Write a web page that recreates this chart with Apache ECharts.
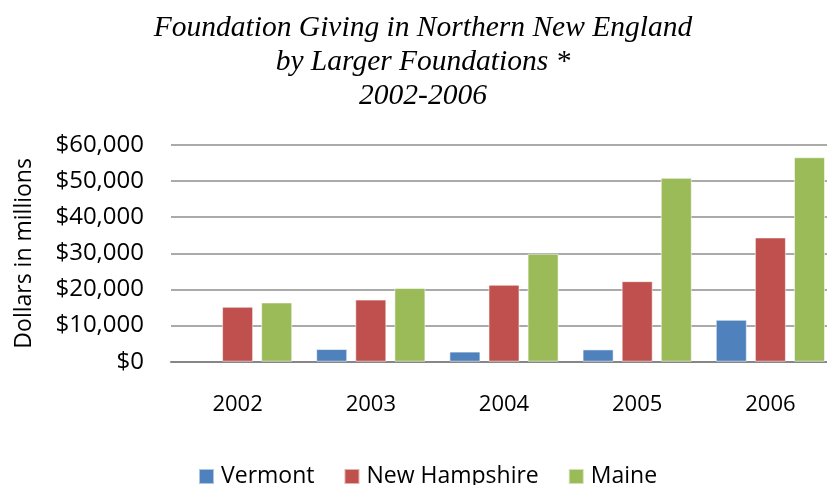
<!DOCTYPE html>
<html>
<head>
<meta charset="utf-8">
<script src="https://cdn.jsdelivr.net/npm/echarts@6/dist/echarts.min.js"></script>
<style>
    html, body {margin: 0; padding: 0; background: #fff;}
    #chart {width: 827px; height: 485px;}
</style>
</head>
<body>
<div id="chart"></div>
<script>
// values
var years = ['2002', '2003', '2004', '2005', '2006']
var vermont = [null, 3500, 2800, 3400, 11600]
var newHampshire = [15200, 17200, 21300, 22300, 34400]
var maine = [16400, 20400, 29900, 50900, 56600]
var yTicks = [0, 10000, 20000, 30000, 40000, 50000, 60000]

var sansFont = 'Open Sans'
var myChart = echarts.init(document.getElementById('chart'))

function barSeries(name, data, color) {
    return {
        name: name,
        type: 'bar',
        data: data,
        barGap: '26%',
        barCategoryGap: '18%',
        itemStyle: {
            color: color,
            borderColor: 'rgba(255,255,255,0.55)',
            borderWidth: 1
        }
    }
}

var option = {
    animation: false,
    backgroundColor: '#fff',
    title: {
        text: 'Foundation Giving in Northern New England\nby Larger Foundations *\n2002-2006',
        left: 418,
        top: 6,
        textAlign: 'center',
        textStyle: {
            fontFamily: 'Liberation Serif',
            fontStyle: 'italic',
            fontWeight: 'normal',
            fontSize: 29.5,
            lineHeight: 34,
            color: '#000'
        }
    },
    legend: {
        data: ['Vermont', 'New Hampshire', 'Maine'],
        left: 193,
        top: 460,
        icon: 'rect',
        itemWidth: 15,
        itemHeight: 15,
        itemGap: 29,
        textStyle: {
            fontFamily: sansFont,
            fontSize: 23,
            color: '#000',
            padding: [0, 0, 0, 2]
        }
    },
    grid: {
        left: 171,
        top: 145,
        width: 666,
        bottom: 123.3,
        containLabel: false,
        outerBoundsMode: 'none'
    },
    xAxis: {
        type: 'category',
        data: years,
        axisTick: {show: false},
        axisLine: {lineStyle: {color: '#868686', width: 2}},
        axisLabel: {
            fontFamily: sansFont,
            fontSize: 22,
            color: '#000',
            margin: 32
        }
    },
    yAxis: {
        type: 'value',
        min: yTicks[0],
        max: yTicks[yTicks.length - 1],
        interval: yTicks[1] - yTicks[0],
        name: 'Dollars in millions',
        nameLocation: 'middle',
        nameGap: 135,
        nameTextStyle: {
            fontFamily: sansFont,
            fontSize: 23,
            color: '#000'
        },
        axisLine: {show: false},
        axisTick: {show: false},
        splitLine: {lineStyle: {color: '#8e8e8e', width: 1.5}},
        axisLabel: {
            fontFamily: sansFont,
            fontSize: 24,
            color: '#000',
            margin: 27,
            formatter: function (v) {
                return '$' + v.toLocaleString('en-US')
            }
        }
    },
    series: [
        barSeries('Vermont', vermont, '#4f81bd'),
        barSeries('New Hampshire', newHampshire, '#c0504d'),
        barSeries('Maine', maine, '#9bbb59')
    ]
}

myChart.setOption(option)
</script>
</body>
</html>
